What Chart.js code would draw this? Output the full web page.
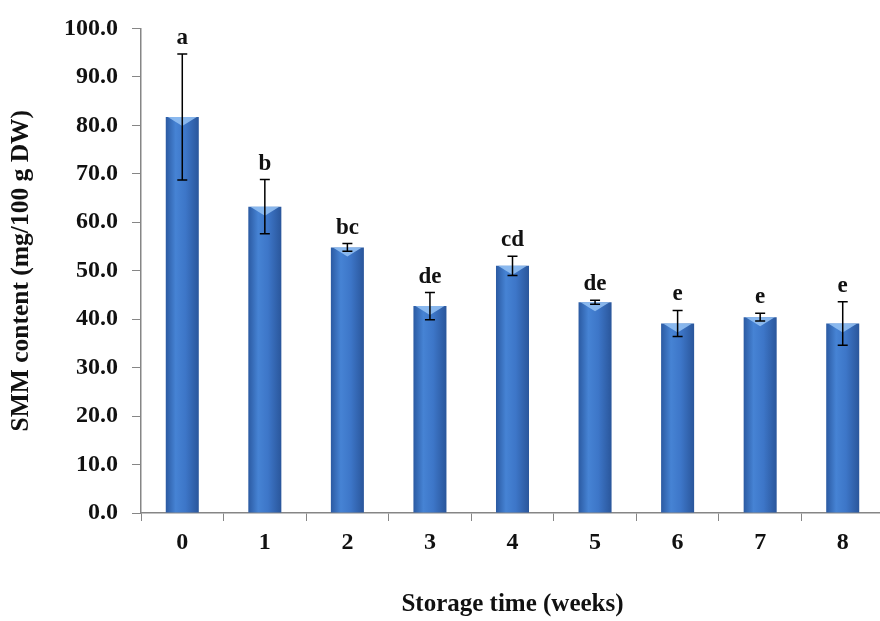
<!DOCTYPE html>
<html>
<head>
<meta charset="utf-8">
<script src="https://cdn.jsdelivr.net/npm/chart.js@4/dist/chart.umd.min.js"></script>
<style>
  html, body { margin: 0; padding: 0; background: #fff; overflow: hidden; }
  #wrap { position: relative; width: 884px; height: 621px; }
</style>
</head>
<body>
<div id="wrap"><canvas id="smmChart"></canvas></div>
<script>
const weeks = ['0', '1', '2', '3', '4', '5', '6', '7', '8']
const smmMeans = [81.7, 63.2, 54.8, 42.7, 51.0, 43.5, 39.1, 40.4, 39.1]
const smmErrors = [13.0, 5.6, 0.8, 2.8, 2.0, 0.4, 2.7, 0.8, 4.5]
const groupLetters = ['a', 'b', 'bc', 'de', 'cd', 'de', 'e', 'e', 'e']
const yTicks = [0, 10, 20, 30, 40, 50, 60, 70, 80, 90, 100]

const AXIS_GREY = '#868686'
const TEXT = '#111'
const FONT = '"Liberation Serif", "Times New Roman", serif'

// horizontal shading so each bar looks like a rounded column
function barFill(ctx) {
  const chart = ctx.chart
  const x = chart.scales.x
  if (!x || ctx.dataIndex == null) return '#3a72c2'
  const cx = x.getPixelForValue(ctx.dataIndex)
  const hw = (x.width / weeks.length) * 0.4 / 2
  if (!Number.isFinite(cx) || !Number.isFinite(hw) || hw <= 0) return '#3a72c2'
  const g = chart.ctx.createLinearGradient(cx - hw, 0, cx + hw, 0)
  g.addColorStop(0, '#2b5aa2')
  g.addColorStop(0.3, '#4683d4')
  g.addColorStop(0.6, '#3d76c8')
  g.addColorStop(1, '#2a569b')
  return g
}

const barDecor = {
  id: 'barDecor',
  afterDatasetsDraw(chart) {
    const { ctx } = chart
    const meta = chart.getDatasetMeta(0)
    const y = chart.scales.y
    ctx.save()
    meta.data.forEach((bar, i) => {
      const half = bar.width / 2
      // light bevel at the top of the column
      ctx.fillStyle = 'rgba(150, 195, 245, 0.85)'
      ctx.beginPath()
      ctx.moveTo(bar.x - half + 2, bar.y)
      ctx.lineTo(bar.x + half - 2, bar.y)
      ctx.lineTo(bar.x, bar.y + 9)
      ctx.closePath()
      ctx.fill()

      // error bar
      const top = y.getPixelForValue(smmMeans[i] + smmErrors[i])
      const bottom = y.getPixelForValue(smmMeans[i] - smmErrors[i])
      ctx.strokeStyle = '#000'
      ctx.lineWidth = 1.5
      ctx.beginPath()
      ctx.moveTo(bar.x, top)
      ctx.lineTo(bar.x, bottom)
      ctx.moveTo(bar.x - 5, top)
      ctx.lineTo(bar.x + 5, top)
      ctx.moveTo(bar.x - 5, bottom)
      ctx.lineTo(bar.x + 5, bottom)
      ctx.stroke()

      // significance letters
      ctx.fillStyle = TEXT
      ctx.font = 'bold 23px ' + FONT
      ctx.textAlign = 'center'
      ctx.textBaseline = 'alphabetic'
      ctx.fillText(groupLetters[i], bar.x, top - 10)
    })
    ctx.restore()
  },
}

new Chart(document.getElementById('smmChart'), {
  type: 'bar',
  data: {
    labels: weeks,
    datasets: [{
      label: 'SMM content',
      data: smmMeans,
      backgroundColor: barFill,
      borderWidth: 0,
      categoryPercentage: 1,
      barPercentage: 0.4,
    }],
  },
  options: {
    responsive: true,
    maintainAspectRatio: false,
    animation: false,
    events: [],
    layout: { padding: { top: 21, right: 0, bottom: 0, left: 0 } },
    plugins: {
      legend: { display: false },
      tooltip: { enabled: false },
    },
    scales: {
      x: {
        offset: true,
        grid: {
          offset: true,
          drawOnChartArea: false,
          drawTicks: true,
          tickLength: 8,
          color: AXIS_GREY,
        },
        border: { color: AXIS_GREY, width: 1.5 },
        ticks: {
          color: TEXT,
          padding: 7,
          font: { family: FONT, size: 24, weight: 'bold' },
        },
        title: {
          display: true,
          text: 'Storage time (weeks)',
          color: TEXT,
          padding: { top: 0, bottom: 1 },
          font: { family: FONT, size: 25, weight: 'bold' },
        },
        afterFit(scale) { scale.height = 108 },
      },
      y: {
        min: 0,
        max: 100,
        afterBuildTicks(scale) { scale.ticks = yTicks.map(v => ({ value: v })) },
        grid: {
          drawOnChartArea: false,
          drawTicks: true,
          tickLength: 9,
          color: AXIS_GREY,
        },
        border: { color: AXIS_GREY, width: 1.5 },
        ticks: {
          color: TEXT,
          padding: 14,
          font: { family: FONT, size: 24, weight: 'bold' },
          callback: v => Number(v).toFixed(1),
        },
        title: {
          display: true,
          text: 'SMM content (mg/100 g DW)',
          color: TEXT,
          padding: { top: 6, bottom: 0 },
          font: { family: FONT, size: 25.5, weight: 'bold' },
        },
        afterFit(scale) { scale.width = 141 },
      },
    },
  },
  plugins: [barDecor],
})
</script>
</body>
</html>
